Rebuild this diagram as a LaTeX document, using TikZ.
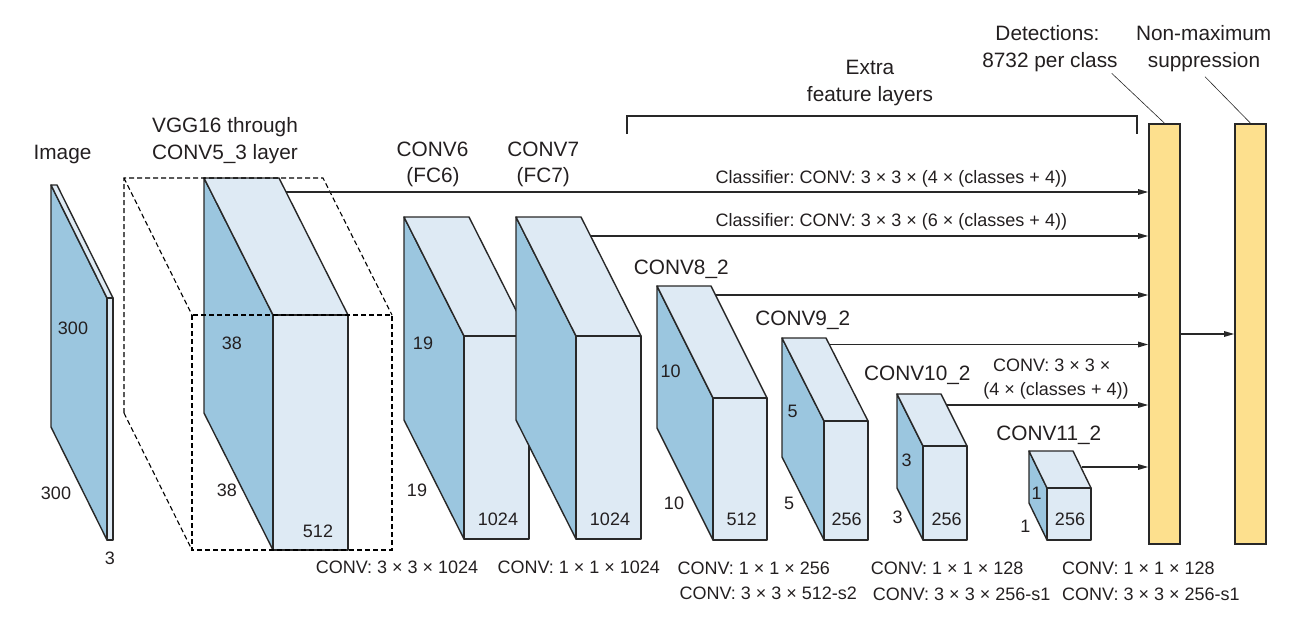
\documentclass[tikz,border=0pt]{standalone}
\usepackage{fontspec}
\setmainfont{Liberation Sans}
\usetikzlibrary{arrows.meta,calc}
\frenchspacing
\definecolor{lineC}{RGB}{40,40,40}
\definecolor{txtC}{RGB}{35,31,32}
\definecolor{darkB}{RGB}{155,198,223}
\definecolor{lightB}{RGB}{222,234,244}
\definecolor{barY}{RGB}{253,224,142}
\newcommand\prismbox[6]{%
  \filldraw[sideface] ({#1-#5},{#2-#6}) -- (#1,#2) -- (#1,{#2+#4}) -- ({#1-#5},{#2+#4-#6}) -- cycle;
  \filldraw[lightface] ({#1-#5},{#2-#6}) -- ({#1-#5+#3},{#2-#6}) -- ({#1+#3},#2) -- (#1,#2) -- cycle;
  \filldraw[lightface] (#1,#2) rectangle ({#1+#3},{#2+#4});
}
\tikzset{
  edgeline/.style={draw=lineC, line width=1.4pt, line join=round},
  sideface/.style={edgeline, fill=darkB},
  lightface/.style={edgeline, fill=lightB},
  ttl/.style={font=\fontsize{20.8}{26}\selectfont\frenchspacing, text=txtC, inner sep=0pt, anchor=base},
  sml/.style={font=\fontsize{18}{24}\selectfont\frenchspacing, text=txtC, inner sep=0pt, anchor=base},
  arr/.style={draw=lineC, line width=1.3pt, -{Triangle[length=10pt,width=5.5pt]}},
  bar/.style={draw=lineC, line width=1.6pt, fill=barY, minimum width=31pt, minimum height=420pt, inner sep=0pt},
  leader/.style={draw=lineC, line width=0.6pt},
  dashbox/.style={draw=black, line width=1.1pt, dash pattern=on 5pt off 3pt},
  bracket/.style={draw=lineC, line width=1.3pt},
}
\begin{document}
\begin{tikzpicture}[x=1pt,y=-1pt]
\useasboundingbox (0,0) rectangle (1315,624);

% prisms
\prismbox{107}{298}{6}{242}{56}{113}
\prismbox{273}{315}{75}{235}{69}{137}
\prismbox{464}{336}{65}{203}{60}{119}
\prismbox{576}{336}{65}{203}{60}{119}
\prismbox{713}{398}{54}{142}{56}{112}
\prismbox{824}{421}{44}{119}{42}{83}
\prismbox{923}{446}{44}{94}{26}{52}
\prismbox{1047}{488}{44}{52}{18}{37}

% dashed VGG box
\draw[dashbox] (124,413) -- (124,178) -- (323,178) -- (392,315);
\draw[dashbox] (124,178) -- (192,315);
\draw[dashbox] (124,413) -- (192,550);
\draw[dashbox] (192,315) rectangle (392,550);

% bracket
\draw[bracket] (627,134) -- (627,116) -- (1137,116) -- (1137,134);

% bars
\node[bar] (bar1) at (1164.5,334) {};
\node[bar] (bar2) at (1250.5,334) {};

% arrow start coordinates
\coordinate (s1) at (286.1,192);
\coordinate (s2) at (590.6,236);
\coordinate (s3) at (715.5,295);
\coordinate (s4) at (829.3,344.5);
\coordinate (s5) at (946.5,405);
\coordinate (s6) at (1082,467);
\draw[arr] (s1) -- (s1 -| bar1.west);
\draw[arr] (s2) -- (s2 -| bar1.west);
\draw[arr] (s3) -- (s3 -| bar1.west);
\draw[arr] (s4) -- (s4 -| bar1.west);
\draw[arr] (s5) -- (s5 -| bar1.west);
\draw[arr] (s6) -- (s6 -| bar1.west);
\draw[arr] (bar1.east) -- (bar2.west);

% leaders
\coordinate (l1) at (1111.7,73.3);
\coordinate (l2) at (1205,76.7);
\draw[leader] (l1) -- (bar1.north);
\draw[leader] (l2) -- (bar2.north);

% titles
\node[ttl] (tImg) at (62.5,159.5) {Image};
\node[ttl] (tVgg1) at (225,132.5) {VGG16 through};
\node[ttl] (tVgg2) at (225,159) {CONV5\_3 layer};
\node[ttl] (tC6a) at (432.5,156.5) {CONV6};
\node[ttl] (tC6b) at (433,182.5) {(FC6)};
\node[ttl] (tC7a) at (543.3,156.5) {CONV7};
\node[ttl] (tC7b) at (543.3,182.5) {(FC7)};
\node[ttl] (tC8) at (681.3,274.2) {CONV8\_2};
\node[ttl] (tC9) at (802.8,325.8) {CONV9\_2};
\node[ttl] (tC10) at (917.3,380.8) {CONV10\_2};
\node[ttl] (tC11) at (1048.8,440.2) {CONV11\_2};
\node[ttl] (tEx1) at (870,74.5) {Extra};
\node[ttl] (tEx2) at (870,101.5) {feature layers};
\node[ttl] (tDet1) at (1047.5,40.5) {Detections:};
\node[ttl] (tDet2) at (1050,67.5) {8732 per class};
\node[ttl] (tNms1) at (1203.7,40.5) {Non-maximum};
\node[ttl] (tNms2) at (1204,67.5) {suppression};

% dimension labels
\node[sml] (d1) at (73,334.4) {300};
\node[sml] (d2) at (56,499.4) {300};
\node[sml] (d3) at (110,564.4) {3};
\node[sml] (d4) at (232,349.4) {38};
\node[sml] (d5) at (227,496.4) {38};
\node[sml] (d6) at (318,537.4) {512};
\node[sml] (d7) at (423,349.4) {19};
\node[sml] (d8) at (417,496.4) {19};
\node[sml] (d9) at (498,525.4) {1024};
\node[sml] (d10) at (610,525.4) {1024};
\node[sml] (d11) at (670.7,377.1) {10};
\node[sml] (d12) at (674,509.4) {10};
\node[sml] (d13) at (741.7,525.4) {512};
\node[sml] (d14) at (792.5,417.1) {5};
\node[sml] (d15) at (789,509.1) {5};
\node[sml] (d16) at (846.7,525.6) {256};
\node[sml] (d17) at (906.7,466.4) {3};
\node[sml] (d18) at (897.7,523.1) {3};
\node[sml] (d19) at (946.7,525.6) {256};
\node[sml] (d20) at (1036.7,499.1) {1};
\node[sml] (d21) at (1025.3,532.4) {1};
\node[sml] (d22) at (1070,525.6) {256};

% classifier labels
\node[sml] (k1) at (891.3,183.7) {Classifier: CONV: 3 × 3 × (4 × (classes + 4))};
\node[sml] (k2) at (891.3,226.4) {Classifier: CONV: 3 × 3 × (6 × (classes + 4))};
\node[sml] (k3) at (1051.7,371.4) {CONV: 3 × 3 ×};
\node[sml] (k4) at (1056,395.7) {(4 × (classes + 4))};

% bottom labels
\node[sml] (b1) at (397,573.7) {CONV: 3 × 3 × 1024};
\node[sml] (b2) at (578.8,573.7) {CONV: 1 × 1 × 1024};
\node[sml, anchor=base west] (b3) at (677.3,574.4) {CONV: 1 × 1 × 256};
\node[sml, anchor=base west] (b4) at (679.3,599.4) {CONV: 3 × 3 × 512-s2};
\node[sml, anchor=base west] (b5) at (870.7,574.4) {CONV: 1 × 1 × 128};
\node[sml, anchor=base west] (b6) at (872.7,600.4) {CONV: 3 × 3 × 256-s1};
\node[sml, anchor=base west] (b7) at (1062,574.4) {CONV: 1 × 1 × 128};
\node[sml, anchor=base west] (b8) at (1062,600.4) {CONV: 3 × 3 × 256-s1};
\end{tikzpicture}
\end{document}
